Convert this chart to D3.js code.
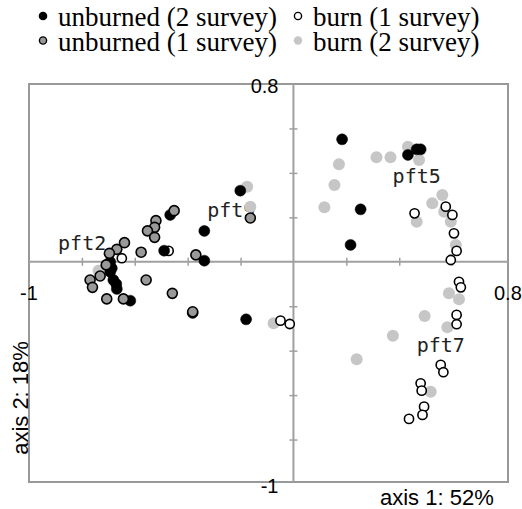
<!DOCTYPE html>
<html>
<head>
<meta charset="utf-8">
<script src="https://cdn.jsdelivr.net/npm/d3@7"></script>
<style>
  body { margin: 0; background: #fff; }
  svg { display: block; }
  .legend text { font-family: "Liberation Serif", Tinos, "Times New Roman", Times, "DejaVu Serif", serif; }
</style>
</head>
<body>
<svg></svg>
<script>
const width = 522;
const height = 509;

// legend rows: [left, right]
const legendRows = [
  ["unburned (2 survey)", "burn (1 survey)"],
  ["unburned (1 survey)", "burn (2 survey)"]
];

const xTicks = [-0.8, -0.6, -0.4, -0.2, 0.2, 0.4, 0.6];
const yTicks = [-0.8, -0.6, -0.4, -0.2, 0.2, 0.4, 0.6];

// site scores, axis 1 / axis 2
const unburned2 = [
  [-0.201, 0.32], [-0.337, 0.139], [-0.466, 0.211], [-0.489, 0.05],
  [-0.337, 0.005], [-0.693, 0.0], [-0.687, -0.029], [-0.693, -0.045],
  [-0.681, -0.082], [-0.67, -0.10], [-0.668, -0.122], [-0.617, -0.175],
  [-0.381, -0.23], [-0.179, -0.259], [0.184, 0.551], [0.254, 0.236],
  [0.216, 0.076], [0.433, 0.481], [0.466, 0.506], [0.481, 0.506]
];

const unburned1 = [
  [-0.163, 0.197], [-0.451, 0.23], [-0.52, 0.185], [-0.525, 0.155],
  [-0.552, 0.139], [-0.525, 0.11], [-0.639, 0.086], [-0.668, 0.056],
  [-0.696, 0.038], [-0.576, 0.043], [-0.369, 0.031], [-0.708, -0.014],
  [-0.731, -0.064], [-0.769, -0.082], [-0.76, -0.115], [-0.557, -0.082],
  [-0.458, -0.142], [-0.381, -0.225], [-0.706, -0.167], [-0.643, -0.167]
];

const burn1 = [
  [-0.472, 0.049], [-0.649, 0.016], [-0.049, -0.265], [-0.014, -0.28],
  [0.458, 0.218], [0.576, 0.248], [0.601, 0.211], [0.607, 0.128],
  [0.617, 0.049], [0.595, 0.008], [0.626, -0.09], [0.633, -0.115],
  [0.617, -0.239], [0.617, -0.281], [0.557, -0.464], [0.567, -0.497],
  [0.481, -0.547], [0.485, -0.58], [0.494, -0.652], [0.488, -0.689],
  [0.437, -0.707]
];

const burn2 = [
  [-0.175, 0.338], [-0.163, 0.248], [-0.737, -0.04], [-0.075, -0.277],
  [0.172, 0.439], [0.155, 0.346], [0.117, 0.245], [0.314, 0.47],
  [0.367, 0.47], [0.433, 0.518], [0.475, 0.458], [0.563, 0.301],
  [0.525, 0.263], [0.57, 0.225], [0.595, 0.18], [0.466, 0.18],
  [0.614, 0.076], [0.588, -0.142], [0.626, -0.169], [0.496, -0.244],
  [0.582, -0.295], [0.376, -0.333], [0.239, -0.439], [0.519, -0.585]
];

// pft labels, placed at their score (left end of text, baseline)
const pftNames = ["pft2", "pft9", "pft5", "pft7"];
const pftScores = [[-0.89, 0.053], [-0.326, 0.202], [0.375, 0.355], [0.466, -0.406]];

const styles = {
  "unburned (2 survey)": {fill: "#000", stroke: "#000", sw: 0.5, r: 5.5},
  "unburned (1 survey)": {fill: "#999", stroke: "#000", sw: 1.6, r: 5},
  "burn (1 survey)": {fill: "#fff", stroke: "#000", sw: 1.6, r: 4.6},
  "burn (2 survey)": {fill: "#c6c6c6", stroke: "none", sw: 0, r: 6}
};

const x = d3.scaleLinear().domain([-1, 0.8]).range([29, 505]);
const y = d3.scaleLinear().domain([-1, 0.8]).range([484, 84]);

const svg = d3.select("svg")
    .attr("width", width)
    .attr("height", height);

const axisColor = "#a0a0a0";

// frame
svg.append("rect")
    .attr("x", x(-1))
    .attr("y", y(0.8))
    .attr("width", x(0.8) + 3 - x(-1))
    .attr("height", y(-1) - 2 - y(0.8))
    .attr("fill", "none")
    .attr("stroke", "#999")
    .attr("stroke-width", 2);

// axes through the origin, ticks crossing the line
const xAxis = svg.append("g")
    .attr("transform", "translate(0," + (y(0) - 4) + ")")
    .call(d3.axisBottom(x).tickValues(xTicks).tickSize(8).tickFormat(""));
const yAxis = svg.append("g")
    .attr("transform", "translate(" + (x(0) + 4) + ",0)")
    .call(d3.axisLeft(y).tickValues(yTicks).tickSize(8).tickFormat(""));
[xAxis, yAxis].forEach(function (g) {
  g.select(".domain").remove();
  g.selectAll(".tick line").attr("stroke", axisColor).attr("stroke-width", 1.5);
});

svg.append("line")
    .attr("x1", x(-1)).attr("x2", x(0.8) + 3)
    .attr("y1", y(0)).attr("y2", y(0))
    .attr("stroke", axisColor).attr("stroke-width", 2);
svg.append("line")
    .attr("x1", x(0)).attr("x2", x(0))
    .attr("y1", y(0.8)).attr("y2", y(-1) - 2)
    .attr("stroke", axisColor).attr("stroke-width", 2);

// limit labels
const limFont = "'Liberation Sans', Arial, sans-serif";
svg.append("text").text("0.8")
    .attr("x", x(0) - 15).attr("y", y(0.8) + 9)
    .attr("text-anchor", "end");
svg.append("text").text("-1")
    .attr("x", x(0) - 15).attr("y", y(-1) + 9)
    .attr("text-anchor", "end");
svg.append("text").text("-1")
    .attr("x", x(-1) - 9).attr("y", y(0) + 38);
svg.append("text").text("0.8")
    .attr("x", x(0.8) - 11).attr("y", y(0) + 38);
svg.selectAll("text")
    .attr("font-family", limFont)
    .attr("font-size", 20)
    .attr("fill", "#000");

// axis titles
svg.append("text").text("axis 1: 52%")
    .attr("x", 380).attr("y", 505)
    .attr("font-family", limFont).attr("font-size", 22);
svg.append("text").text("axis 2: 18%")
    .attr("transform", "translate(28,398) rotate(-90)")
    .attr("text-anchor", "middle")
    .attr("font-family", limFont).attr("font-size", 22);

// pft labels
svg.selectAll(".pft")
  .data(pftNames)
  .enter().append("text")
    .attr("class", "pft")
    .attr("x", function (d, i) { return x(pftScores[i][0]); })
    .attr("y", function (d, i) { return y(pftScores[i][1]); })
    .attr("font-family", "'DejaVu Sans Mono', monospace")
    .attr("font-size", 20)
    .attr("fill", "#222")
    .text(function (d) { return d; });

// points
const series = [
  {name: "burn (2 survey)", data: burn2},
  {name: "burn (1 survey)", data: burn1},
  {name: "unburned (2 survey)", data: unburned2},
  {name: "unburned (1 survey)", data: unburned1}
];

series.forEach(function (s) {
  const st = styles[s.name];
  svg.append("g").selectAll("circle")
    .data(s.data)
    .enter().append("circle")
      .attr("cx", function (d) { return x(d[0]); })
      .attr("cy", function (d) { return y(d[1]); })
      .attr("r", st.r)
      .attr("fill", st.fill)
      .attr("stroke", st.stroke)
      .attr("stroke-width", st.sw);
});

// legend
const legend = svg.append("g").attr("class", "legend");
legendRows.forEach(function (row, ri) {
  row.forEach(function (name, ci) {
    const st = styles[name];
    const lx = ci === 0 ? 43 : 298;
    const ly = 16 + ri * 24.5;
    legend.append("circle")
        .attr("cx", lx).attr("cy", ly)
        .attr("r", st.stroke === "none" ? 4.2 : 3.6)
        .attr("fill", st.fill)
        .attr("stroke", st.stroke)
        .attr("stroke-width", st.stroke === "none" ? 0 : 1.4);
    legend.append("text")
        .attr("x", lx + 15).attr("y", ly + 10)
        .attr("font-size", 27)
        .text(name);
  });
});
</script>
</body>
</html>
